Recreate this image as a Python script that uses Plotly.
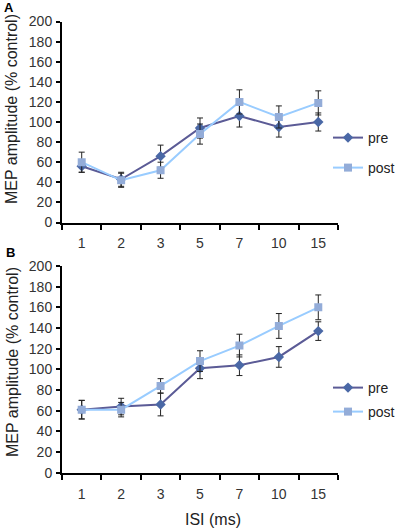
import plotly.graph_objects as go

isi = ["1", "2", "3", "5", "7", "10", "15"]

a_pre = [56, 43, 66, 94, 106, 95, 100]
a_pre_err = [6, 7, 11, 10, 11, 10, 9]
a_post = [60, 42, 52, 88, 120, 105, 119]
a_post_err = [10, 7, 8, 10, 12, 11, 12]

b_pre = [61, 64, 66, 101, 104, 112, 137]
b_pre_err = [9, 8, 11, 10, 10, 10, 9]
b_post = [61, 61, 84, 108, 123, 142, 160]
b_post_err = [9, 7, 7, 10, 11, 12, 12]

y_ticks = [0, 20, 40, 60, 80, 100, 120, 140, 160, 180, 200]

PRE_LINE = "#5b5b96"
PRE_MARK = "#4a68a6"
POST_LINE = "#99ccff"
POST_MARK = "#93acd8"
FONT = "Liberation Sans, Arial, sans-serif"

W, H = 397, 530


def px(x):
    return x / W


def py(y):
    return (H - y) / H


def err(vals):
    return dict(type="data", array=vals, visible=True, color="#222222",
                thickness=1, width=3)


fig = go.Figure()

panels = [
    ("x", "y", a_pre, a_pre_err, a_post, a_post_err, "legend", "legend2"),
    ("x2", "y2", b_pre, b_pre_err, b_post, b_post_err, "legend3", "legend4"),
]

for xa, ya, pre, pre_e, post, post_e, lg1, lg2 in panels:
    fig.add_trace(go.Scatter(
        x=isi, y=pre, name="pre", xaxis=xa, yaxis=ya, mode="lines+markers",
        line=dict(color=PRE_LINE, width=2),
        marker=dict(symbol="diamond", size=8, color=PRE_MARK),
        error_y=err(pre_e), legend=lg1))
    fig.add_trace(go.Scatter(
        x=isi, y=post, name="post", xaxis=xa, yaxis=ya, mode="lines+markers",
        line=dict(color=POST_LINE, width=2),
        marker=dict(symbol="square", size=8, color=POST_MARK),
        error_y=err(post_e), legend=lg2))

xdom = [px(62), px(338)]
common_x = dict(type="category", categoryorder="array", categoryarray=isi,
                range=[-0.5, 6.5], domain=xdom, showline=True, linecolor="black",
                linewidth=2, ticks="outside", ticklen=5, tickwidth=2,
                tickcolor="black", tickson="boundaries", showgrid=False,
                zeroline=False, ticklabelstandoff=7,
                tickfont=dict(family=FONT, size=14, color="#333333"))
common_y = dict(range=[0, 200], tickvals=y_ticks, showline=True,
                linecolor="black", linewidth=2, ticks="outside", ticklen=4,
                tickwidth=2, tickcolor="black", showgrid=False, zeroline=False,
                ticklabelstandoff=1,
                tickfont=dict(family=FONT, size=14, color="#333333"))

legend_common = dict(bgcolor="rgba(0,0,0,0)", font=dict(family=FONT, size=14, color="#222222"),
                     xanchor="left", yanchor="middle", itemwidth=30,
                     tracegroupgap=0)

LX = px(328)


def note(text, x, y, size, angle=0, color="#222222"):
    return dict(text=text, x=px(x), y=py(y), xref="paper", yref="paper",
                xanchor="center", yanchor="middle", showarrow=False,
                textangle=angle, font=dict(family=FONT, size=size, color=color))


fig.update_layout(
    width=W, height=H,
    margin=dict(l=0, r=0, t=0, b=0, autoexpand=False),
    paper_bgcolor="white", plot_bgcolor="white",
    xaxis=dict(common_x, anchor="y"),
    yaxis=dict(common_y, domain=[py(222.5), py(21.5)], anchor="x"),
    xaxis2=dict(common_x, anchor="y2"),
    yaxis2=dict(common_y, domain=[py(472.7), py(266)], anchor="x2"),
    legend=dict(legend_common, x=LX, y=py(138)),
    legend2=dict(legend_common, x=LX, y=py(168)),
    legend3=dict(legend_common, x=LX, y=py(388)),
    legend4=dict(legend_common, x=LX, y=py(412)),
    showlegend=True,
    annotations=[
        note("<b>A</b>", 9, 8, 13, color="black"),
        note("<b>B</b>", 10, 252, 13, color="black"),
        note("MEP amplitude (% control)", 12, 109, 16, angle=-90),
        note("MEP amplitude (% control)", 12, 362, 16, angle=-90),
        note("ISI (ms)", 213, 519, 16),
    ],
)

fig.write_html(
    "out.html",
    config={"displayModeBar": False},
    post_script="document.documentElement.style.margin='0';"
                "document.body.style.margin='0';"
                "document.body.style.overflow='hidden';",
)
